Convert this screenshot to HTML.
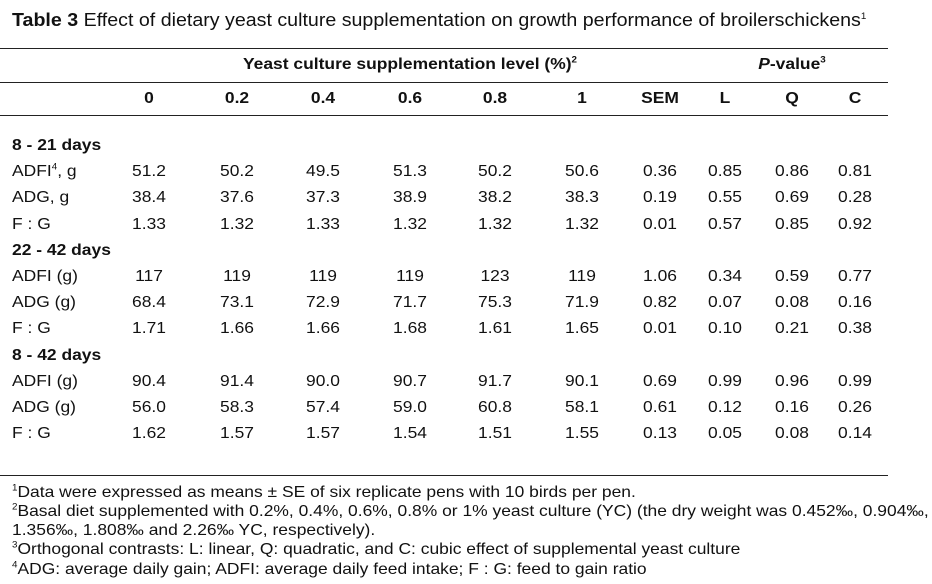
<!DOCTYPE html>
<html><head><meta charset="utf-8"><style>
body{margin:0;width:932px;height:584px;background:#fff;position:relative;font-family:"Liberation Sans",Arial,sans-serif;color:#111;overflow:hidden}
.t{position:absolute;white-space:nowrap;font-size:16px;line-height:18px;transform-origin:0 50%;transform:scaleX(1.09)}
.c{transform:translateX(-50%) scaleX(1.09);transform-origin:50% 50%}
.b{font-weight:bold}
.ln{position:absolute;left:0;width:888px;height:1px;background:#222}
sup{font-size:9px;line-height:0}
</style></head><body>
<div class="t" style="left:12px;top:10px;font-size:18px;line-height:20px"><b>Table 3</b> Effect of dietary yeast culture supplementation on growth performance of broilerschickens<sup>1</sup></div>
<div class="ln" style="top:48px"></div>
<div class="ln" style="top:82px"></div>
<div class="ln" style="top:115px"></div>
<div class="ln" style="top:475px"></div>
<div class="t b c" style="left:410px;top:56px">Yeast culture supplementation level (%)<sup>2</sup></div>
<div class="t b c" style="left:792px;top:56px"><i>P</i>-value<sup>3</sup></div>
<div id="tbl"></div>
<div class="t" style="left:12px;top:484px"><sup>1</sup>Data were expressed as means ± SE of six replicate pens with 10 birds per pen.</div>
<div class="t" style="left:12px;top:503px"><sup>2</sup>Basal diet supplemented with 0.2%, 0.4%, 0.6%, 0.8% or 1% yeast culture (YC) (the dry weight was 0.452‰, 0.904‰,</div>
<div class="t" style="left:12px;top:522px">1.356‰, 1.808‰ and 2.26‰ YC, respectively).</div>
<div class="t" style="left:12px;top:541px"><sup>3</sup>Orthogonal contrasts: L: linear, Q: quadratic, and C: cubic effect of supplemental yeast culture</div>
<div class="t" style="left:12px;top:561px"><sup>4</sup>ADG: average daily gain; ADFI: average daily feed intake; F : G: feed to gain ratio</div>
<script>
const colHeads=["0","0.2","0.4","0.6","0.8","1","SEM","L","Q","C"];
const colX=[149,237,323,410,495,582,660,725,792,855];
const rows=[
["h","8 - 21 days"],
["r","ADFI<sup>4</sup>, g",["51.2","50.2","49.5","51.3","50.2","50.6","0.36","0.85","0.86","0.81"]],
["r","ADG, g",["38.4","37.6","37.3","38.9","38.2","38.3","0.19","0.55","0.69","0.28"]],
["r","F : G",["1.33","1.32","1.33","1.32","1.32","1.32","0.01","0.57","0.85","0.92"]],
["h","22 - 42 days"],
["r","ADFI (g)",["117","119","119","119","123","119","1.06","0.34","0.59","0.77"]],
["r","ADG (g)",["68.4","73.1","72.9","71.7","75.3","71.9","0.82","0.07","0.08","0.16"]],
["r","F : G",["1.71","1.66","1.66","1.68","1.61","1.65","0.01","0.10","0.21","0.38"]],
["h","8 - 42 days"],
["r","ADFI (g)",["90.4","91.4","90.0","90.7","91.7","90.1","0.69","0.99","0.96","0.99"]],
["r","ADG (g)",["56.0","58.3","57.4","59.0","60.8","58.1","0.61","0.12","0.16","0.26"]],
["r","F : G",["1.62","1.57","1.57","1.54","1.51","1.55","0.13","0.05","0.08","0.14"]]
];
const tbl=document.getElementById('tbl');
function mk(html,x,y,cls){const d=document.createElement('div');d.className='t '+cls;d.style.left=x+'px';d.style.top=y+'px';d.innerHTML=html;tbl.appendChild(d);return d;}
colHeads.forEach((h,i)=>{const d=mk(h,colX[i],90,'b c');

});
rows.forEach((r,i)=>{const y=137+i*26.2;
if(r[0]==='h'){const d=mk(r[1],12,y,'b');

}
else{const l=mk(r[1],12,y,'');


r[2].forEach((v,j)=>{const d=mk(v,colX[j],y,'c');

});}
});
</script>
</body></html>
